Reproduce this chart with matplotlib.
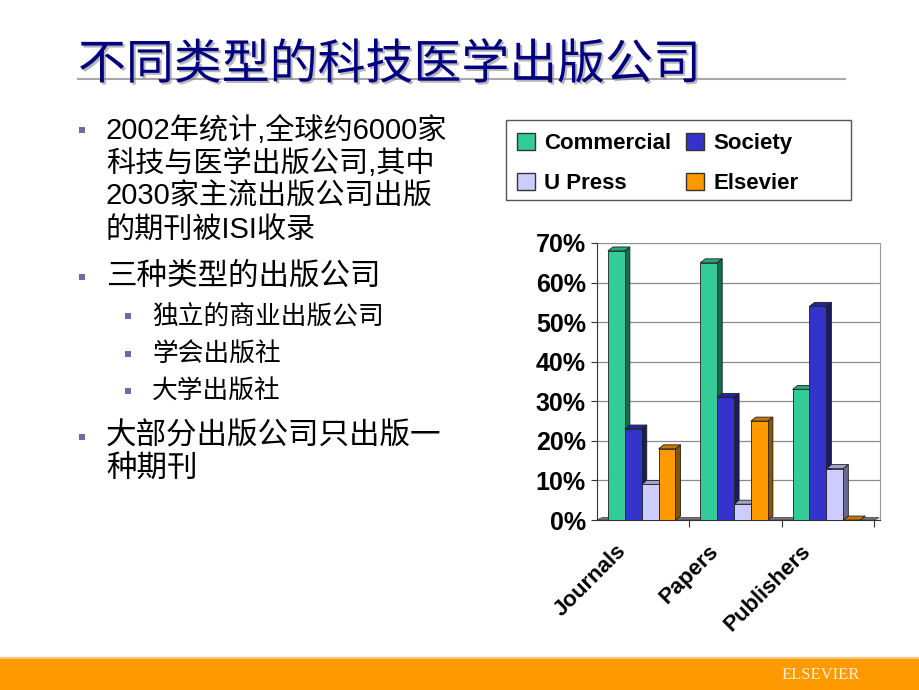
import matplotlib
matplotlib.use("Agg")
import matplotlib.pyplot as plt
import matplotlib.patheffects as pe
import numpy as np
from matplotlib.patches import Rectangle, Polygon, Patch
from matplotlib.lines import Line2D

plt.rcParams['font.family'] = ['Liberation Sans', 'Noto Sans CJK SC', 'DejaVu Sans']

# data
categories = ['Journals', 'Papers', 'Publishers']
series = ['Commercial', 'Society', 'U Press', 'Elsevier']
commercial = [68, 65, 33]
society = [23, 31, 54]
upress = [9, 4, 13]
elsevier = [18, 25, 0]
yticks = [0, 10, 20, 30, 40, 50, 60, 70]

title = '不同类型的科技医学出版公司'
bullet1 = ['2002年统计,全球约6000家', '科技与医学出版公司,其中', '2030家主流出版公司出版', '的期刊被ISI收录']
bullet2 = ['三种类型的出版公司']
sub_bullets = ['独立的商业出版公司', '学会出版社', '大学出版社']
bullet3 = ['大部分出版公司只出版一', '种期刊']

# colours: front, side, top
front = ['#33CC99', '#3333CC', '#CCCCFF', '#FF9900']
side = ['#13704F', '#1A1A66', '#6B6B88', '#8A5300']
top = ['#26A57A', '#262699', '#A3A3CC', '#C77800']

W, H = 920, 690
fig = plt.figure(figsize=(W / 100, H / 100), dpi=100)


def fx(px):
    return px / W


def fy(py):
    return 1 - py / H


body_font = ['Liberation Sans', 'Noto Sans CJK SC', 'DejaVu Sans']

# ---- slide decorations ----
fig.add_artist(Line2D([fx(78), fx(845)], [fy(79), fy(79)], color='#A8A8A8', lw=1.5, zorder=1))
fig.text(fx(78), fy(65), title, fontsize=34.5, color='#000080', va='center',
         family=['Noto Sans CJK SC'], weight='medium', zorder=3,
         path_effects=[pe.withSimplePatchShadow(offset=(1.5, -1.5), shadow_rgbFace='#888888',
                                                alpha=0.6)])

fig.add_artist(Rectangle((0, 0), 1, 32 / H, transform=fig.transFigure,
                         facecolor='#FF9900', edgecolor='none', zorder=1))
fig.add_artist(Line2D([0, 1], [32 / H, 32 / H], color='#F5C97A', lw=1.5, zorder=2))
fig.text(fx(821), fy(675), 'ELSEVIER', fontsize=12, color='#FFF0C8', ha='center',
         va='center', family=['Liberation Serif'], zorder=3)

# ---- bullet text ----
bullet_col = '#6B6BA6'


def bullet(x_marker, x_text, y, lines, size, step):
    fig.add_artist(Rectangle((fx(x_marker - 3), fy(y + 3)), 6 / W, 6 / H,
                             transform=fig.transFigure, facecolor=bullet_col,
                             edgecolor='none'))
    for i, line in enumerate(lines):
        fig.text(fx(x_text), fy(y + i * step), line, fontsize=size, color='black',
                 va='center', family=body_font)


bullet(82, 106, 130, bullet1, 21, 33.5)
bullet(82, 106, 277, bullet2, 22, 33.5)
for i, s in enumerate(sub_bullets):
    bullet(128, 152, 316 + i * 37.5, [s], 18.5, 0)
bullet(82, 106, 437, bullet3, 22, 31.5)

# ---- 3D-looking bar chart ----
ax = fig.add_axes([fx(597), fy(520), (880 - 597) / W, 277 / H])
dx, dy = 0.055, 1.0
width = 0.183
x = np.arange(len(categories))
values = [commercial, society, upress, elsevier]

ax.set_xlim(-0.5, 2.5 + dx + 0.01)
ax.set_ylim(0, 70)

# floor
ax.add_patch(Polygon([(-0.5, 0), (2.5, 0), (2.5 + dx, dy * 0.6), (-0.5 + dx, dy * 0.6)],
                     closed=True, facecolor='#7A7A7A', edgecolor='#444444', lw=0.6,
                     zorder=2, clip_on=False))

for g in range(len(categories)):
    for i, vals in enumerate(values):
        left = x[g] - 0.382 + i * width
        h = vals[g]
        z = 3 + g * 10 + i
        ax.bar(left, h, width=width, align='edge', color=front[i], edgecolor='#202020',
               lw=0.6, zorder=z + 0.2)
        ax.add_patch(Polygon([(left + width, 0), (left + width + dx, dy),
                              (left + width + dx, h + dy), (left + width, h)],
                             closed=True, facecolor=side[i], edgecolor='#202020', lw=0.6,
                             zorder=z, clip_on=False))
        ax.add_patch(Polygon([(left, h), (left + width, h), (left + width + dx, h + dy),
                              (left + dx, h + dy)],
                             closed=True, facecolor=top[i], edgecolor='#202020', lw=0.6,
                             zorder=z + 0.1, clip_on=False))

ax.set_yticks(yticks)
ax.set_yticklabels([f'{v}%' for v in yticks], fontsize=18, weight='bold')
ax.yaxis.grid(True, color='#8C8C8C', lw=0.9, zorder=0)
ax.set_axisbelow(True)
ax.tick_params(axis='y', length=4, width=0.8, pad=4, color='#333333')

ax.set_xticks(x - 0.30)
ax.set_xticklabels(categories, fontsize=16, weight='bold', rotation=45,
                   ha='right', va='top', rotation_mode='anchor')
ax.tick_params(axis='x', length=0, pad=15)
ax.set_xticks([0.5, 1.5, 2.5], minor=True)
ax.tick_params(axis='x', which='minor', length=5, width=0.8, color='#333333')

ax.spines['top'].set_visible(False)
ax.spines['right'].set_color('#9A9A9A')
ax.spines['left'].set_color('#333333')
ax.spines['bottom'].set_color('#333333')

# ---- legend ----
fig.add_artist(Rectangle((fx(506), fy(200)), (851 - 506) / W, 80 / H,
                         transform=fig.transFigure, facecolor='white',
                         edgecolor='#555555', lw=1.0))
handles = [Patch(facecolor=front[i], edgecolor='#333333', label=series[i]) for i in range(4)]
order = [0, 2, 1, 3]
fig.legend([handles[i] for i in order], [series[i] for i in order], ncol=2,
           loc='upper left', bbox_to_anchor=(fx(506), fy(122)), frameon=False,
           prop={'size': 16, 'weight': 'bold'}, handlelength=0.8, handleheight=0.8,
           handletextpad=0.4, columnspacing=0.7, labelspacing=0.85, borderpad=0.5,
           borderaxespad=0)

fig.savefig('out.png', dpi=100)
